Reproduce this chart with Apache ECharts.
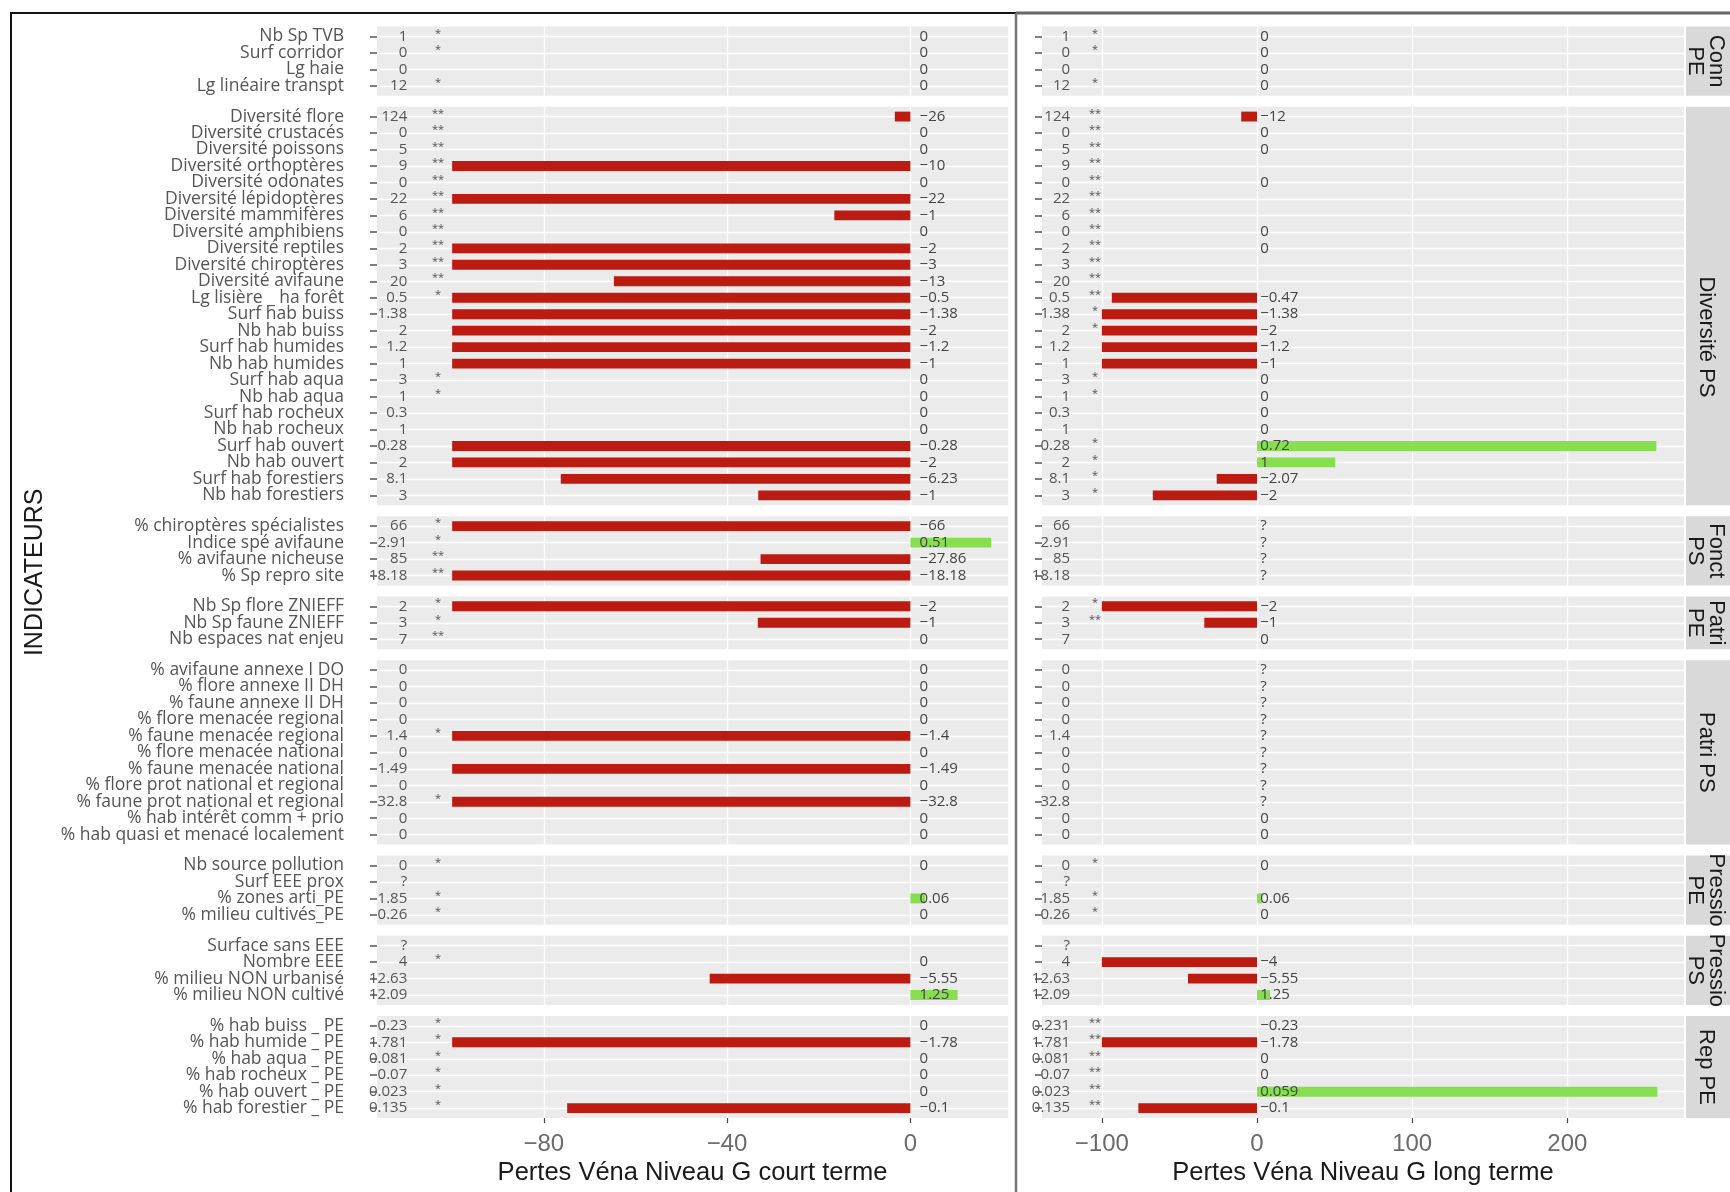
<!DOCTYPE html>
<html><head><meta charset="utf-8">
<script src="https://cdn.jsdelivr.net/npm/echarts@6/dist/echarts.min.js"></script>
<style>html,body{margin:0;padding:0;background:#fff}#c{width:1730px;height:1192px}</style>
</head><body><div id="c"></div><script>
// ---------------- DATA ----------------
const facetNames = ['Conn\nPE', 'Diversité PS', 'Fonct\nPS', 'Patri\nPE', 'Patri PS', 'Pressio\nPE', 'Pressio\nPS', 'Rep PE'];
const facetSizes = [4, 24, 4, 3, 11, 4, 4, 6];
const categories = [
  'Nb Sp TVB', 'Surf corridor', 'Lg haie', 'Lg linéaire transpt',
  'Diversité flore', 'Diversité crustacés', 'Diversité poissons', 'Diversité orthoptères', 'Diversité odonates',
  'Diversité lépidoptères', 'Diversité mammifères', 'Diversité amphibiens', 'Diversité reptiles', 'Diversité chiroptères',
  'Diversité avifaune', 'Lg lisière _ ha forêt', 'Surf hab buiss', 'Nb hab buiss', 'Surf hab humides', 'Nb hab humides',
  'Surf hab aqua', 'Nb hab aqua', 'Surf hab rocheux', 'Nb hab rocheux', 'Surf hab ouvert', 'Nb hab ouvert',
  'Surf hab forestiers', 'Nb hab forestiers',
  '% chiroptères spécialistes', 'Indice spé avifaune', '% avifaune nicheuse', '% Sp repro site',
  'Nb Sp flore ZNIEFF', 'Nb Sp faune ZNIEFF', 'Nb espaces nat enjeu',
  '% avifaune annexe I DO', '% flore annexe II DH', '% faune annexe II DH', '% flore menacée regional',
  '% faune menacée regional', '% flore menacée national', '% faune menacée national',
  '% flore prot national et regional', '% faune prot national et regional', '% hab intérêt comm + prio',
  '% hab quasi et menacé localement',
  'Nb source pollution', 'Surf EEE prox', '% zones arti_PE', '% milieu cultivés_PE',
  'Surface sans EEE', 'Nombre EEE', '% milieu NON urbanisé', '% milieu NON cultivé',
  '% hab buiss _ PE', '% hab humide _ PE', '% hab aqua _ PE', '% hab rocheux _ PE', '% hab ouvert _ PE', '% hab forestier _ PE'
];
const baseTextLeft = [
  '1', '0', '0', '12',
  '124', '0', '5', '9', '0', '22', '6', '0', '2', '3', '20', '0.5', '1.38', '2', '1.2', '1', '3', '1', '0.3', '1', '0.28', '2', '8.1', '3',
  '66', '2.91', '85', '18.18',
  '2', '3', '7',
  '0', '0', '0', '0', '1.4', '0', '1.49', '0', '32.8', '0', '0',
  '0', '?', '1.85', '0.26',
  '?', '4', '12.63', '12.09',
  '0.23', '1.781', '0.081', '0.07', '0.023', '0.135'
];
const baseTextRight = [
  '1', '0', '0', '12',
  '124', '0', '5', '9', '0', '22', '6', '0', '2', '3', '20', '0.5', '1.38', '2', '1.2', '1', '3', '1', '0.3', '1', '0.28', '2', '8.1', '3',
  '66', '2.91', '85', '18.18',
  '2', '3', '7',
  '0', '0', '0', '0', '1.4', '0', '0', '0', '32.8', '0', '0',
  '0', '?', '1.85', '0.26',
  '?', '4', '12.63', '12.09',
  '0.231', '1.781', '0.081', '0.07', '0.023', '0.135'
];
const starsLeft = [
  '*', '*', '', '*',
  '**', '**', '**', '**', '**', '**', '**', '**', '**', '**', '**', '*', '', '', '', '', '*', '*', '', '', '', '', '', '',
  '*', '*', '**', '**',
  '*', '*', '**',
  '', '', '', '', '*', '', '', '', '*', '', '',
  '*', '', '*', '*',
  '', '*', '', '',
  '*', '*', '*', '*', '*', '*'
];
const starsRight = [
  '*', '*', '', '*',
  '**', '**', '**', '**', '**', '**', '**', '**', '**', '**', '**', '**', '*', '*', '', '', '*', '*', '', '', '*', '*', '*', '*',
  '', '', '', '',
  '*', '**', '',
  '', '', '', '', '', '', '', '', '', '', '',
  '*', '', '*', '*',
  '', '', '', '',
  '**', '**', '**', '**', '**', '**'
];
const labelsLeft = [
  '0', '0', '0', '0',
  '−26', '0', '0', '−10', '0', '−22', '−1', '0', '−2', '−3', '−13', '−0.5', '−1.38', '−2', '−1.2', '−1', '0', '0', '0', '0', '−0.28', '−2', '−6.23', '−1',
  '−66', '0.51', '−27.86', '−18.18',
  '−2', '−1', '0',
  '0', '0', '0', '0', '−1.4', '0', '−1.49', '0', '−32.8', '0', '0',
  '0', '', '0.06', '0',
  '', '0', '−5.55', '1.25',
  '0', '−1.78', '0', '0', '0', '−0.1'
];
const labelsRight = [
  '0', '0', '0', '0',
  '−12', '0', '0', '', '0', '', '', '0', '0', '', '', '−0.47', '−1.38', '−2', '−1.2', '−1', '0', '0', '0', '0', '0.72', '1', '−2.07', '−2',
  '?', '?', '?', '?',
  '−2', '−1', '0',
  '?', '?', '?', '?', '?', '?', '?', '?', '?', '0', '0',
  '0', '', '0.06', '0',
  '', '−4', '−5.55', '1.25',
  '−0.23', '−1.78', '0', '0', '0.059', '−0.1'
];
const barsLeft = [
  null, null, null, null,
  -3.4, null, null, -100, null, -100, -16.6, null, -100, -100, -64.7, -100, -100, -100, -100, -100, null, null, null, null, -100, -100, -76.3, -33.2,
  -100, 17.6, -32.7, -100,
  -100, -33.3, null,
  null, null, null, null, -100, null, -100, null, -100, null, null,
  null, null, 3.2, null,
  null, null, -43.8, 10.3,
  null, -100, null, null, null, -74.9
];
const barsRight = [
  null, null, null, null,
  -10.2, null, null, null, null, null, null, null, null, null, null, -93.6, -100, -100, -100, -100, null, null, null, null, 257.4, 50.4, -26, -67.2,
  null, null, null, null,
  -100, -34, null,
  null, null, null, null, null, null, null, null, null, null, null,
  null, null, 3.2, null,
  null, -100, -44.5, 8.4,
  null, -100, null, null, 258, -76.5
];
const ticksLeft = [-80, -40, 0];
const ticksRight = [-100, 0, 100, 200];
const titleLeft = 'Pertes Véna Niveau G court terme';
const titleRight = 'Pertes Véna Niveau G long terme';
const yTitle = 'INDICATEURS';

// ---------------- LAYOUT / STYLE ----------------
const TOP = 26.5, ROW = 16.47, GAP = 11;
const CAT_MARGIN = 33;
const PANELS = [
  { left: 377, right: 1008, min: -116.4, max: 21.3, ticks: ticksLeft, title: titleLeft, showCats: true,
    base: baseTextLeft, stars: starsLeft, labels: labelsLeft, bars: barsLeft, baseX: -109.8, starX: -103.1, labX: 2 },
  { left: 1042, right: 1684, min: -138.6, max: 275.2, ticks: ticksRight, title: titleRight, showCats: false,
    base: baseTextRight, stars: starsRight, labels: labelsRight, bars: barsRight, baseX: -120.5, starX: -104.4, labX: 2 }
];
const STRIP_SHIFT = [0, 31, 0, 0, 0, 0, 0, 0];
const RED = '#BC1B12', GREEN = '#86DE50', PANEL_BG = '#EBEBEB';
const SANS = '"Open Sans", "DejaVu Sans", sans-serif';
const ARIAL = '"Liberation Sans", Arial, sans-serif';

const facetTop = [], facetH = [], facetOffset = [];
let yCur = TOP, off = 0;
facetSizes.forEach((n, f) => {
  facetTop.push(yCur); facetH.push((n + 0.2) * ROW); facetOffset.push(off);
  yCur += (n + 0.2) * ROW + GAP; off += n;
});
const nF = facetSizes.length;

const grids = [], xAxes = [], yAxes = [], series = [];
const minus = v => (v < 0 ? '−' + Math.abs(v) : String(v));

PANELS.forEach((P, p) => {
  for (let f = 0; f < nF; f++) {
    const g = p * nF + f;
    const n = facetSizes[f];
    const offset = facetOffset[f];
    const bottom = f === nF - 1;
    grids.push({ left: P.left, width: P.right - P.left, top: facetTop[f], height: facetH[f],
      show: true, backgroundColor: PANEL_BG, borderWidth: 0 });
    xAxes.push({
      type: 'value', gridIndex: g, min: P.min, max: P.max,
      axisLine: { show: false, onZero: false },
      axisTick: { show: bottom, customValues: P.ticks, length: 5, lineStyle: { color: '#444', width: 1.2 } },
      axisLabel: { show: bottom, customValues: P.ticks, formatter: minus, margin: 14,
        showMinLabel: true, showMaxLabel: true, hideOverlap: false,
        fontSize: 24, fontFamily: ARIAL, color: '#6b6b6b' },
      splitLine: { show: true, lineStyle: { color: '#FFFFFF', width: 1.3 } },
      name: bottom ? P.title : '', nameLocation: 'middle', nameGap: 42,
      nameTextStyle: { fontSize: 25.5, fontFamily: ARIAL, color: '#1a1a1a' }
    });
    const rows = [];
    for (let k = 1; k <= n; k++) rows.push(k);
    yAxes.push({
      type: 'value', gridIndex: g, inverse: true, min: 0.4, max: n + 0.6,
      axisLine: { show: false, onZero: false },
      axisTick: { show: true, customValues: rows, length: 7, lineStyle: { color: '#555', width: 1.5 } },
      axisLabel: { show: false, customValues: rows },
      splitLine: { show: true, lineStyle: { color: '#FFFFFF', width: 1.3 } }
    });
    series.push({
      type: 'custom', xAxisIndex: g, yAxisIndex: g, silent: true,
      data: rows.map(k => [0, k]),
      encode: { x: 0, y: 1 },
      renderItem: (params, api) => {
        const k = params.dataIndex;
        const i = offset + k;
        const yv = k + 1;
        const children = [];
        const c0 = api.coord([0, yv]);
        const bar = P.bars[i];
        if (bar != null) {
          const c1 = api.coord([bar, yv]);
          const h = api.size([0, 1])[1] * 0.6;
          children.push({ type: 'rect',
            shape: { x: Math.min(c0[0], c1[0]), y: c0[1] - h / 2, width: Math.abs(c1[0] - c0[0]), height: h },
            style: { fill: bar < 0 ? RED : GREEN } });
        }
        if (P.showCats) {
          const cc = api.coord([P.min, yv]);
          children.push({ type: 'text', x: cc[0] - CAT_MARGIN, y: cc[1],
            style: { text: categories[i], fontSize: 17.5, fontFamily: SANS, fill: '#555', align: 'right', verticalAlign: 'middle' } });
        }
        const cb = api.coord([P.baseX, yv]);
        children.push({ type: 'text', x: cb[0], y: cb[1],
          style: { text: P.base[i], fontSize: 15, fontFamily: SANS, fill: '#555', align: 'right', verticalAlign: 'middle' } });
        if (P.stars[i]) {
          const cs = api.coord([P.starX, yv]);
          children.push({ type: 'text', x: cs[0], y: cs[1] - 3,
            style: { text: P.stars[i], fontSize: 11, fontFamily: SANS, fill: '#555', align: 'center', verticalAlign: 'middle' } });
        }
        if (P.labels[i]) {
          const cl = api.coord([P.labX, yv]);
          children.push({ type: 'text', x: cl[0], y: cl[1],
            style: { text: P.labels[i], fontSize: 15, fontFamily: SANS, fill: '#444', align: 'left', verticalAlign: 'middle' } });
        }
        return { type: 'group', children };
      }
    });
  }
});

// strips, frames, y title
const graphic = [];
for (let f = 0; f < nF; f++) {
  graphic.push({ type: 'rect', left: 1686, top: facetTop[f], shape: { width: 60, height: facetH[f] },
    style: { fill: '#D9D9D9' }, silent: true });
  graphic.push({ type: 'text', x: 1706, y: facetTop[f] + facetH[f] / 2 + STRIP_SHIFT[f], rotation: -Math.PI / 2,
    style: { text: facetNames[f], fontSize: 22, fontFamily: ARIAL, fill: '#1a1a1a', align: 'center', verticalAlign: 'middle', lineHeight: 21 },
    silent: true });
}
graphic.push({ type: 'rect', shape: { x: 11, y: 13, width: 1005, height: 1400 },
  style: { fill: null, stroke: '#111', lineWidth: 2 }, silent: true });
graphic.push({ type: 'line', shape: { x1: 1016, y1: 13, x2: 1735, y2: 13 },
  style: { stroke: '#666', lineWidth: 3 }, silent: true });
graphic.push({ type: 'line', shape: { x1: 1016, y1: 13, x2: 1016, y2: 1200 },
  style: { stroke: '#777', lineWidth: 2.5 }, silent: true });
graphic.push({ type: 'text', x: 35, y: TOP + (yCur - GAP - TOP) / 2, rotation: Math.PI / 2,
  style: { text: yTitle, fontSize: 25, fontFamily: ARIAL, fill: '#1a1a1a', align: 'center', verticalAlign: 'middle' },
  silent: true });

const chart = echarts.init(document.getElementById('c'), null, { renderer: 'canvas' });
chart.setOption({ animation: false, backgroundColor: '#fff', grid: grids, xAxis: xAxes, yAxis: yAxes, series, graphic });
</script></body></html>
